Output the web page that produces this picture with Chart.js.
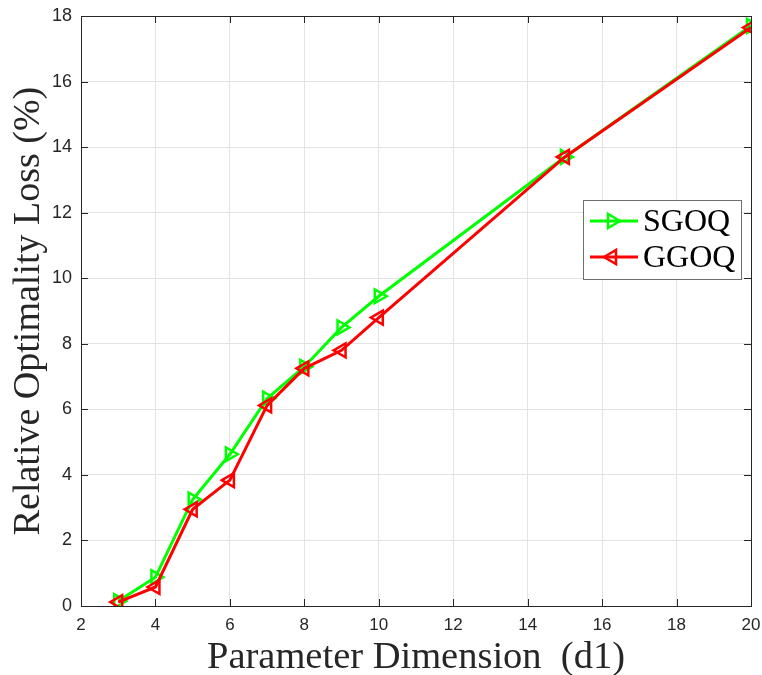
<!DOCTYPE html>
<html>
<head>
<meta charset="utf-8">
<script src="https://cdn.jsdelivr.net/npm/chart.js@4/dist/chart.umd.min.js"></script>
<style>
  html, body { margin: 0; padding: 0; background: #fff; }
  #wrap { width: 762px; height: 675px; }
</style>
</head>
<body>
<div id="wrap"><canvas id="chart-loss" width="762" height="675"></canvas></div>
<script>
const dims = [3, 4, 5, 6, 7, 8, 9, 10, 15, 20]
const sgoq = [0.15, 0.88, 3.25, 4.63, 6.33, 7.3, 8.5, 9.45, 13.7, 17.7]
const ggoq = [0.12, 0.58, 2.95, 3.84, 6.12, 7.25, 7.8, 8.8, 13.7, 17.65]
const xTicks = [2, 4, 6, 8, 10, 12, 14, 16, 18, 20]
const yTicks = [0, 2, 4, 6, 8, 10, 12, 14, 16, 18]

const axisColor = "#262626"
const sans = "'Liberation Sans', Arial, sans-serif"
const serif = "'Liberation Serif', 'Times New Roman', serif"

// box around the plot + inward ticks on all four sides, MATLAB style
const boxPlugin = {
  id: "box",
  afterDatasetsDraw(chart) {
    const { ctx, chartArea: a, scales: { x, y } } = chart
    ctx.save()
    ctx.strokeStyle = axisColor
    ctx.lineWidth = 1
    ctx.strokeRect(a.left + 0.5, a.top + 0.5, a.right - a.left, a.bottom - a.top)
    ctx.beginPath()
    const t = 7
    xTicks.forEach(v => {
      const px = Math.round(x.getPixelForValue(v)) + 0.5
      ctx.moveTo(px, a.bottom); ctx.lineTo(px, a.bottom - t)
      ctx.moveTo(px, a.top); ctx.lineTo(px, a.top + t)
    })
    yTicks.forEach(v => {
      const py = Math.round(y.getPixelForValue(v)) + 0.5
      ctx.moveTo(a.left, py); ctx.lineTo(a.left + t, py)
      ctx.moveTo(a.right, py); ctx.lineTo(a.right - t, py)
    })
    ctx.stroke()
    ctx.restore()
  }
}

// legend drawn inside the axes, near the right edge
const legendPlugin = {
  id: "insideLegend",
  afterDraw(chart) {
    const { ctx } = chart
    const bx = 583, by = 200, bw = 158, bh = 79
    ctx.save()
    ctx.fillStyle = "#fff"
    ctx.fillRect(bx, by, bw, bh)
    ctx.strokeStyle = "#6e6e6e"
    ctx.lineWidth = 1
    ctx.strokeRect(bx + 0.5, by + 0.5, bw, bh)
    chart.data.datasets.forEach((ds, i) => {
      const cy = by + 21 + i * 36
      ctx.strokeStyle = ds.borderColor
      ctx.lineWidth = 3
      ctx.beginPath()
      ctx.moveTo(bx + 7, cy); ctx.lineTo(bx + 55, cy)
      ctx.stroke()
      ctx.lineWidth = 2.5
      const s = 8, dir = ds.rotation === 90 ? 1 : -1
      const mx = bx + 29
      ctx.beginPath()
      ctx.moveTo(mx + dir * s, cy)
      ctx.lineTo(mx - dir * s * 0.5, cy - s * 0.87)
      ctx.lineTo(mx - dir * s * 0.5, cy + s * 0.87)
      ctx.closePath()
      ctx.stroke()
      ctx.fillStyle = "#000"
      ctx.font = "32px " + serif
      ctx.textBaseline = "middle"
      ctx.fillText(ds.label, bx + 60, cy + 2)
    })
    ctx.restore()
  }
}

new Chart(document.getElementById("chart-loss"), {
  type: "line",
  data: {
    datasets: [{
      label: "SGOQ",
      data: dims.map((d, i) => ({ x: d, y: sgoq[i] })),
      borderColor: "#00ff00",
      backgroundColor: "rgba(0,0,0,0)",
      borderWidth: 3,
      pointStyle: "triangle",
      rotation: 90,
      pointRadius: 8,
      pointBorderWidth: 2.5,
      order: 1
    }, {
      label: "GGOQ",
      data: dims.map((d, i) => ({ x: d, y: ggoq[i] })),
      borderColor: "#ff0000",
      backgroundColor: "rgba(0,0,0,0)",
      borderWidth: 3,
      pointStyle: "triangle",
      rotation: -90,
      pointRadius: 8,
      pointBorderWidth: 2.5,
      order: 0
    }]
  },
  options: {
    responsive: false,
    animation: false,
    layout: { padding: { left: 0, right: 11, top: 16, bottom: 0 } },
    plugins: { legend: { display: false }, tooltip: { enabled: false } },
    scales: {
      x: {
        type: "linear",
        min: 2,
        max: 20,
        afterBuildTicks: s => { s.ticks = xTicks.map(v => ({ value: v })) },
        afterFit: s => { s.height = 69; s.paddingLeft = 0; s.paddingRight = 0 },
        grid: { color: "#e3e3e3", drawTicks: false },
        border: { display: false },
        ticks: { color: axisColor, font: { family: sans, size: 17 }, padding: 9, maxRotation: 0 },
        title: {
          display: true,
          text: "Parameter Dimension  (d1)",
          color: "#262626",
          font: { family: serif, size: 38.5, lineHeight: 0.9 },
          padding: { top: 0, bottom: 0 }
        }
      },
      y: {
        type: "linear",
        min: 0,
        max: 18,
        afterBuildTicks: s => { s.ticks = yTicks.map(v => ({ value: v })) },
        afterFit: s => { s.width = 81; s.paddingTop = 0; s.paddingBottom = 0 },
        grid: { color: "#e3e3e3", drawTicks: false },
        border: { display: false },
        ticks: { color: axisColor, font: { family: sans, size: 18 }, padding: 9 },
        title: {
          display: true,
          text: "Relative Optimality Loss (%)",
          color: "#262626",
          font: { family: serif, size: 38 },
          padding: { top: 6, bottom: 0 }
        }
      }
    }
  },
  plugins: [boxPlugin, legendPlugin]
})
</script>
</body>
</html>
